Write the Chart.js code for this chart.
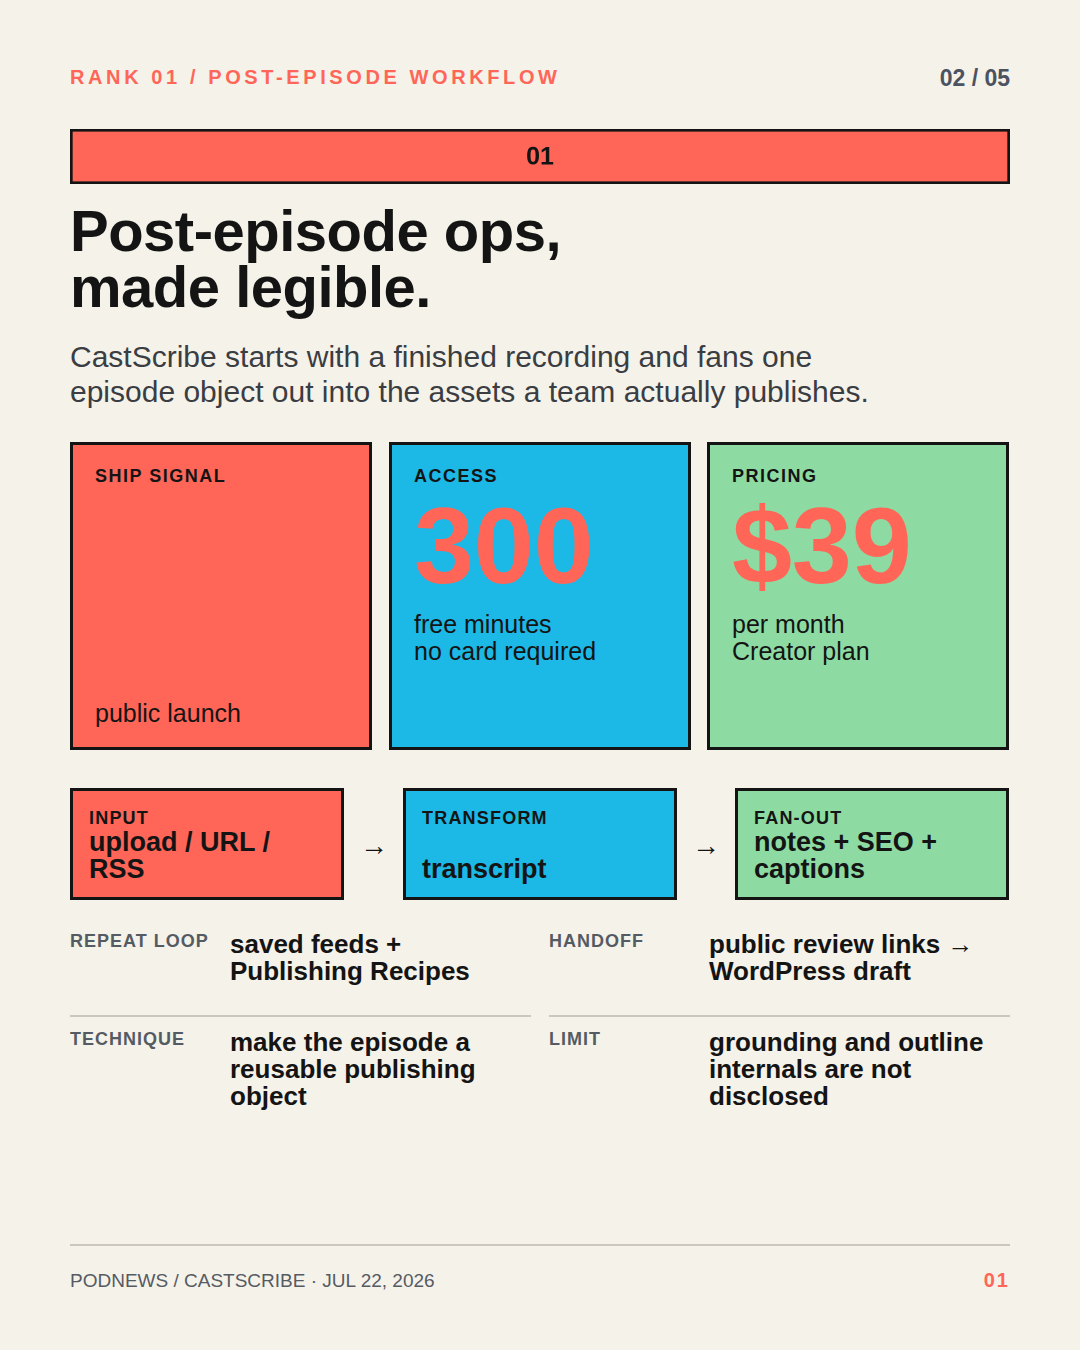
<!DOCTYPE html>
<html>
<head>
<meta charset="utf-8">
<script src="https://cdn.jsdelivr.net/npm/chart.js@4.4.1/dist/chart.umd.min.js"></script>
<style>
  html, body { margin: 0; padding: 0; }
  body {
    width: 1080px; height: 1350px; background: #f5f2ea; position: relative; overflow: hidden;
    font-family: "Liberation Sans", Arial, sans-serif; color: #141414;
  }
  .abs { position: absolute; }
  #kicker { left: 70px; top: 66px; font-size: 20px; font-weight: bold; letter-spacing: 3.6px; color: #ff6658; }
  #pager { right: 70px; top: 65px; font-size: 23px; font-weight: bold; color: #4b5260; }
  #rankWrap { left: 70px; top: 129px; width: 940px; height: 55px; }
  #title { left: 70px; top: 203px; font-size: 58px; font-weight: bold; line-height: 56px; letter-spacing: -0.5px; }
  #sub { left: 70px; top: 339px; width: 950px; font-size: 30px; line-height: 35px; color: #3a3d42; }
  .card { position: absolute; top: 442px; width: 296px; height: 302px; border: 3px solid #141414; }
  .card .lab { position: absolute; left: 22px; top: 21px; font-size: 18px; font-weight: bold; letter-spacing: 1.5px; }
  .card .big { position: absolute; left: 22px; top: 58px; font-size: 108px; font-weight: bold; color: #ff6658; letter-spacing: -0.2px; line-height: 86px; }
  .card .note { position: absolute; left: 22px; top: 166px; font-size: 25px; line-height: 27px; }
  .card .foot { position: absolute; left: 22px; bottom: 19px; font-size: 25px; }
  .flow { position: absolute; top: 788px; width: 268px; height: 106px; border: 3px solid #141414; }
  .flow .in { position: absolute; left: 16px; top: 17px; right: 10px; bottom: 14px; display: flex; flex-direction: column; justify-content: space-between; }
  .flow .lab { font-size: 18px; font-weight: bold; letter-spacing: 1.2px; }
  .flow .val { font-size: 27px; font-weight: bold; line-height: 27px; }
  .arrow { position: absolute; top: 830px; font-size: 28px; }
  .dl { position: absolute; font-size: 18px; font-weight: bold; letter-spacing: 1px; color: #555b63; }
  .dv { position: absolute; font-size: 26px; font-weight: bold; line-height: 27px; }
  .rule { position: absolute; height: 2px; background: #cbc7be; }
  #footL { left: 70px; top: 1270px; font-size: 19px; color: #555b63; }
  #footR { right: 70px; top: 1269px; font-size: 20px; font-weight: bold; color: #ff6658; letter-spacing: 2px; }
</style>
</head>
<body>
<div class="abs" id="kicker">RANK 01 / POST-EPISODE WORKFLOW</div>
<div class="abs" id="pager">02 / 05</div>
<div class="abs" id="rankWrap"><canvas id="rank"></canvas></div>
<div class="abs" id="title">Post-episode ops,<br>made legible.</div>
<div class="abs" id="sub">CastScribe starts with a finished recording and fans one<br>episode object out into the assets a team actually publishes.</div>
<div id="cards"></div>
<div id="flows"></div>
<div id="details"></div>
<div class="rule" style="left:70px; top:1244px; width:940px;"></div>
<div class="abs" id="footL">PODNEWS / CASTSCRIBE · JUL 22, 2026</div>
<div class="abs" id="footR">01</div>

<script>
// rank bar data
var rankLabels = ["01"];
var rankValues = [1];
var rankMax = 1;

// stat cards
var cardLabels = ["SHIP SIGNAL", "ACCESS", "PRICING"];
var cardValues = ["", "300", "$39"];
var cardNotes = [[], ["free minutes", "no card required"], ["per month", "Creator plan"]];
var cardFoot = ["public launch", "", ""];

// workflow steps
var flowLabels = ["INPUT", "TRANSFORM", "FAN-OUT"];
var flowValues = ["upload / URL /<br>RSS", "transcript", "notes + SEO +<br>captions"];

// detail rows
var detailLabels = ["REPEAT LOOP", "HANDOFF", "TECHNIQUE", "LIMIT"];
var detailValues = [
    "saved feeds +<br>Publishing Recipes",
    "public review links →<br>WordPress draft",
    "make the episode a<br>reusable publishing<br>object",
    "grounding and outline<br>internals are not<br>disclosed"
];

var palette = ["#ff6658", "#1cb8e6", "#8ddba2"];

var cardLeft = [70, 389, 707];
var html = "";
for (var i = 0; i < cardLabels.length; i++) {
    html += '<div class="card" style="left:' + cardLeft[i] + 'px;background:' + palette[i] + '">';
    html += '<div class="lab">' + cardLabels[i] + '</div>';
    if (cardValues[i]) html += '<div class="big">' + cardValues[i] + '</div>';
    if (cardNotes[i].length) html += '<div class="note">' + cardNotes[i].join("<br>") + '</div>';
    if (cardFoot[i]) html += '<div class="foot">' + cardFoot[i] + '</div>';
    html += '</div>';
}
document.getElementById("cards").innerHTML = html;

var flowLeft = [70, 403, 735];
html = "";
for (var j = 0; j < flowLabels.length; j++) {
    html += '<div class="flow" style="left:' + flowLeft[j] + 'px;background:' + palette[j] + '">';
    html += '<div class="in"><div class="lab">' + flowLabels[j] + '</div><div class="val">' + flowValues[j] + '</div></div></div>';
}
html += '<div class="arrow" style="left:360px">→</div><div class="arrow" style="left:692px">→</div>';
document.getElementById("flows").innerHTML = html;

var detX = [70, 549, 70, 549];
var detY = [931, 931, 1029, 1029];
html = "";
for (var k = 0; k < detailLabels.length; k++) {
    html += '<div class="dl" style="left:' + detX[k] + 'px;top:' + detY[k] + 'px">' + detailLabels[k] + '</div>';
    html += '<div class="dv" style="left:' + (detX[k] + 160) + 'px;top:' + (detY[k] + 0) + 'px">' + detailValues[k] + '</div>';
}
html += '<div class="rule" style="left:70px;top:1015px;width:461px"></div>';
html += '<div class="rule" style="left:549px;top:1015px;width:461px"></div>';
document.getElementById("details").innerHTML = html;

// label drawn in the middle of the bar
var barLabel = {
    id: "barLabel",
    afterDatasetsDraw: function (chart) {
        var ctx = chart.ctx;
        chart.getDatasetMeta(0).data.forEach(function (bar, idx) {
            var p = bar.getProps(["x", "y", "base"], true);
            ctx.save();
            ctx.fillStyle = "#141414";
            ctx.font = "bold 25px 'Liberation Sans', Arial, sans-serif";
            ctx.textAlign = "center";
            ctx.textBaseline = "middle";
            ctx.fillText(chart.data.labels[idx], (p.x + p.base) / 2, p.y + 1);
            ctx.restore();
        });
    }
};

new Chart(document.getElementById("rank"), {
    type: "bar",
    data: {
        labels: rankLabels,
        datasets: [{
            data: rankValues,
            backgroundColor: "#ff6658",
            borderColor: "#141414",
            borderWidth: 3,
            borderSkipped: false,
            barPercentage: 1,
            categoryPercentage: 1
        }]
    },
    options: {
        indexAxis: "y",
        responsive: true,
        maintainAspectRatio: false,
        animation: false,
        devicePixelRatio: 2,
        layout: { padding: 0 },
        plugins: { legend: { display: false }, tooltip: { enabled: false } },
        scales: {
            x: { display: false, min: 0, max: rankMax },
            y: { display: false }
        }
    },
    plugins: [barLabel]
});
</script>
</body>
</html>
